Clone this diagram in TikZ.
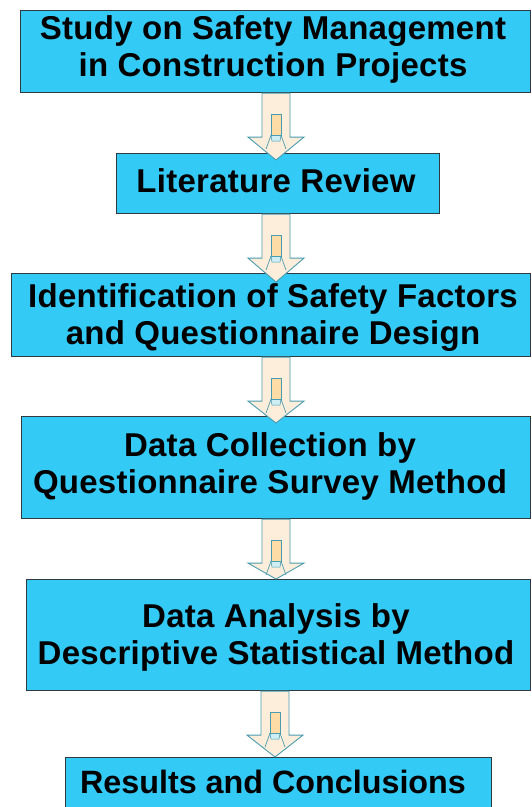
\documentclass[tikz,border=0pt]{standalone}
\usepackage{fontspec}
\setmainfont{Liberation Sans}
\newfontfamily\widefont{Liberation Sans}[LetterSpace=0.8]
\usetikzlibrary{calc}
\definecolor{boxfill}{HTML}{33CBF6}
\definecolor{boxline}{HTML}{2E3A3F}
\definecolor{arrfill}{HTML}{FDEEDC}
\definecolor{arrline}{HTML}{4A9CB0}
\definecolor{innerfill}{HTML}{FDDCA6}
\definecolor{innerhead}{HTML}{CDEFF3}
\tikzset{
  stagebox/.style={draw=boxline, fill=boxfill, line width=1.1pt, rectangle, anchor=north west, inner sep=0pt},
  stagetext/.style={font=\widefont\bfseries\fontsize{33}{37}\selectfont, align=center, text depth=0pt, inner sep=0pt, text=black},
  fatarr/.style={draw=arrline, fill=arrfill, line width=0.9pt, line join=miter},
  innerrect/.style={draw=arrline, fill=innerfill, line width=0.8pt},
  innertip/.style={draw=arrline, fill=innerhead, line width=0.6pt},
}
% #1 from node, #2 to node, #3 x centre, #4 overshoot of the tip
\newcommand\fatarrow[4]{%
  \coordinate (aT) at (#3,0 |- #1.south);
  \coordinate (aTip) at ($(#3,0 |- #2.north)+(0,#4)$);
  \filldraw[fatarr] ($(aT)+(-14,0)$) -- ($(aT)+(14,0)$) -- ($(aT)+(14,44)$) -- ($(aT)+(28,44)$)
     -- (aTip) -- ($(aT)+(-28,44)$) -- ($(aT)+(-14,44)$) -- cycle;
  \filldraw[innertip] ($(aT)+(-5,42)$) -- ($(aT)+(5,42)$) -- ($(aT)+(4,48)$) -- ($(aT)+(-4,48)$) -- cycle;
  \draw[arrline, line width=0.7pt] ($(aT)+(-5,42)$) -- ($(aT)+(-10,56)$);
  \draw[arrline, line width=0.7pt] ($(aT)+(5,42)$) -- ($(aT)+(10,56)$);
  \filldraw[innerrect] ($(aT)+(-5,21)$) rectangle ($(aT)+(5,42)$);
}
\begin{document}
\begin{tikzpicture}[x=1pt, y=-1pt]
\useasboundingbox (0,0) rectangle (531,807);
\clip (0,0) rectangle (531,807);
\fill[white] (0,0) rectangle (531,807);

\node[stagebox, minimum width=510pt, minimum height=82pt] (b1) at (20,10) {};
\node[stagebox, minimum width=323pt, minimum height=60pt] (b2) at (116,153) {};
\node[stagebox, minimum width=519pt, minimum height=83pt] (b3) at (11,273) {};
\node[stagebox, minimum width=509pt, minimum height=102pt] (b4) at (21,416) {};
\node[stagebox, minimum width=504pt, minimum height=111pt] (b5) at (26,579) {};
\node[stagebox, minimum width=426pt, minimum height=75pt] (b6) at (65,757) {};

\node[stagetext] (t1) at (273,46) {Study on Safety Management\\in Construction Projects};
\node[stagetext] (t2) at (276,181) {Literature Review};
\node[stagetext] (t3) at (273,314) {Identification of Safety Factors\\and Questionnaire Design};
\node[stagetext] (t4) at (270,463) {Data Collection by\\Questionnaire Survey Method};
\node[stagetext] (t5) at (276,634) {Data Analysis by\\Descriptive Statistical Method};
\node[stagetext, font=\bfseries\fontsize{32.3}{37}\selectfont] (t6) at (273,781.5) {Results and Conclusions};

\fatarrow{b1}{b2}{276}{7}
\fatarrow{b2}{b3}{276}{9}
\fatarrow{b3}{b4}{276}{7}
\fatarrow{b4}{b5}{276}{0}
\fatarrow{b5}{b6}{275}{0}
\end{tikzpicture}
\end{document}
